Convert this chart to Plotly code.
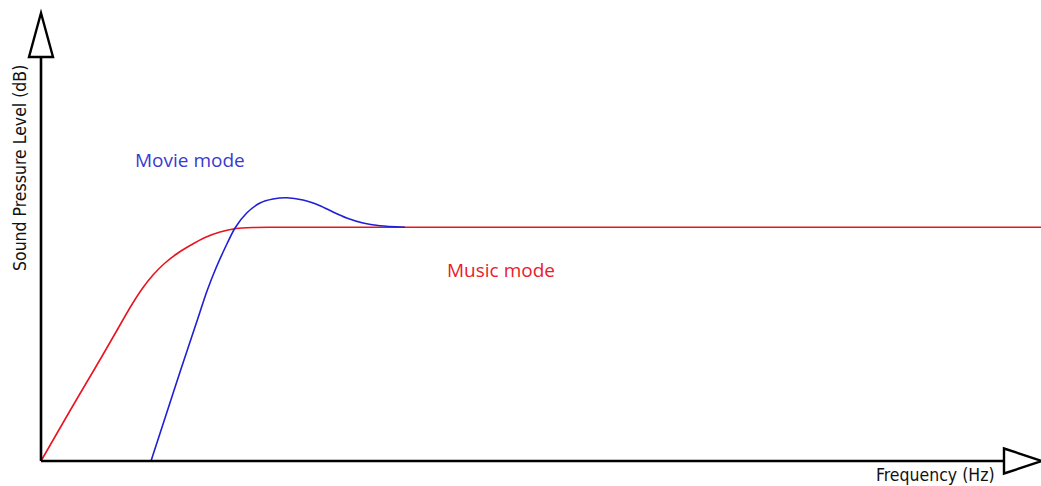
import plotly.graph_objects as go

# Music mode (red) response (arbitrary units)
music_x = [0, 15, 30, 45, 60, 75, 90, 101, 112, 124, 137, 150, 164, 179, 195, 212, 232, 1000]
music_y = [0, 26, 52, 77.5, 103, 129, 155, 172, 186, 198, 208, 216, 223.5, 229, 232.5, 233.5, 233.7, 233.7]

# Movie mode (blue) response
movie_x = [110, 125, 140, 155, 166, 175, 184, 194, 205.7, 219, 232, 245.7, 262, 279, 292, 305.7, 322, 339, 364]
movie_y = [0, 46, 92, 137, 170, 193, 213, 233, 248, 258, 262, 263.3, 261, 255.3, 249, 243, 238, 235.3, 233.7]

W, H = 1041, 486
fig = go.Figure()
fig.add_trace(go.Scatter(x=music_x, y=music_y, mode="lines",
                         line=dict(color="#e8141e", width=1.6, shape="spline", smoothing=0.7),
                         hoverinfo="skip", showlegend=False))
fig.add_trace(go.Scatter(x=movie_x, y=movie_y, mode="lines",
                         line=dict(color="#1f1fd6", width=1.6, shape="spline", smoothing=0.7),
                         hoverinfo="skip", showlegend=False))

shapes = [
    dict(type="line", x0=0, y0=0, x1=0, y1=404, line=dict(color="black", width=2.6)),
    dict(type="line", x0=0, y0=0, x1=963, y1=0, line=dict(color="black", width=2.6)),
    dict(type="path", path="M 0 448 L -12 404 L 12 404 Z", fillcolor="white",
         line=dict(color="black", width=2.4)),
    dict(type="path", path="M 963 12.5 L 963 -12.5 L 1001 0 Z", fillcolor="white",
         line=dict(color="black", width=2.4)),
]

axis_font = "DejaVu Sans Condensed, Liberation Sans, Arial, sans-serif"
annotations = [
    dict(x=92, y=301, text="Movie mode", showarrow=False, xanchor="left", yanchor="middle",
         font=dict(family="Open Sans", size=19, color="#3a3ad0")),
    dict(x=404, y=191, text="Music mode", showarrow=False, xanchor="left", yanchor="middle",
         font=dict(family="Open Sans", size=19, color="#e8202a")),
    dict(x=956, y=-14, text="Frequency (Hz)", showarrow=False, xanchor="right", yanchor="middle",
         font=dict(family=axis_font, size=17.5, color="#111111")),
    dict(x=-21, y=293, text="Sound Pressure Level (dB)", showarrow=False, textangle=-90,
         xanchor="center", yanchor="middle",
         font=dict(family=axis_font, size=17.5, color="#111111")),
]

fig.update_layout(
    width=W, height=H, margin=dict(l=0, r=0, t=0, b=0),
    paper_bgcolor="white", plot_bgcolor="white",
    xaxis=dict(range=[-41, 1000], visible=False, fixedrange=True),
    yaxis=dict(range=[-25, 461], visible=False, fixedrange=True),
    shapes=shapes, annotations=annotations,
)
fig.write_html("out.html", config={"displayModeBar": False},
               post_script="document.body.style.margin='0';")
